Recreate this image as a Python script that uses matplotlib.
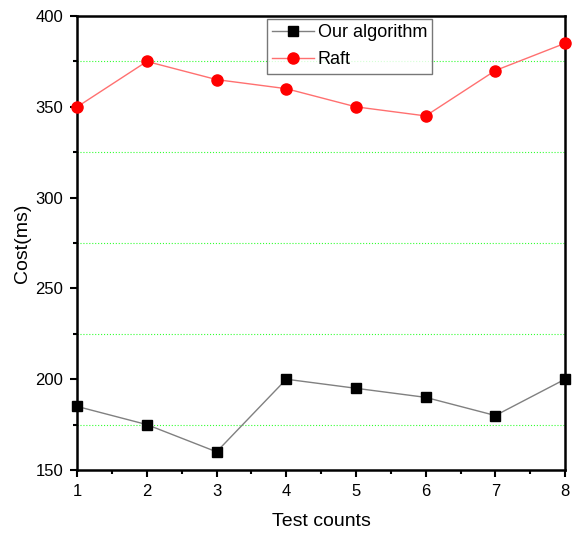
import matplotlib
matplotlib.use("Agg")
import matplotlib.pyplot as plt
from matplotlib.ticker import MultipleLocator

plt.rcParams['font.family'] = ['Liberation Sans', 'DejaVu Sans']

test_counts = [1, 2, 3, 4, 5, 6, 7, 8]
our_algorithm = [185, 175, 160, 200, 195, 190, 180, 200]
raft = [350, 375, 365, 360, 350, 345, 370, 385]

fig = plt.figure(figsize=(5.76, 5.35), dpi=100)
ax = fig.add_axes([0.134, 0.1215, 0.847, 0.8485])

ax.plot(test_counts, our_algorithm, color="#808080", linewidth=1, marker="s",
        markersize=6.5, markerfacecolor="black", markeredgecolor="black",
        label="Our algorithm", zorder=3, clip_on=False)
ax.plot(test_counts, raft, color="#ff7070", linewidth=1, marker="o",
        markersize=8, markerfacecolor="red", markeredgecolor="red",
        label="Raft", zorder=3, clip_on=False)

ax.set_xlim(1, 8)
ax.set_ylim(150, 400)
ax.xaxis.set_major_locator(MultipleLocator(1))
ax.xaxis.set_minor_locator(MultipleLocator(0.5))
ax.yaxis.set_major_locator(MultipleLocator(50))
ax.yaxis.set_minor_locator(MultipleLocator(25))

ax.grid(which="minor", axis="y", color="#33ff33", linestyle=":", linewidth=0.8)

for s in ax.spines.values():
    s.set_linewidth(1.8)
ax.tick_params(which="major", direction="out", length=5, width=1.5, labelsize=12,
               pad=5, top=False, right=False)
ax.tick_params(which="minor", direction="out", length=3, width=1.5, top=False, right=False)

ax.set_xlabel("Test counts", fontsize=14, labelpad=10)
ax.set_ylabel("Cost(ms)", fontsize=14, labelpad=3)

leg = ax.legend(loc="upper left", bbox_to_anchor=(0.389, 0.994), fontsize=13,
                frameon=True, fancybox=False, borderpad=0.3, labelspacing=0.55,
                handlelength=2.3, handletextpad=0.2, borderaxespad=0)
leg.get_frame().set_edgecolor("#555555")
leg.get_frame().set_linewidth(1)

fig.savefig("out.png", dpi=100)
